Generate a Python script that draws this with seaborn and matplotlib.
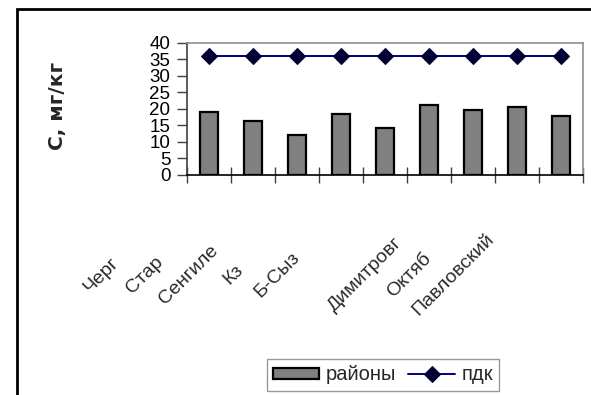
import matplotlib
matplotlib.use("Agg")
import matplotlib.pyplot as plt
import matplotlib.transforms as mtransforms
from matplotlib.patches import Rectangle
import numpy as np
import pandas as pd
import seaborn as sns

# Districts (labels as printed, one left unlabeled) and measured concentrations
districts = ["Черг", "Стар", "Сенгиле", "Кз", "Б-Сыз", "", "Димитровг", "Октяб", "Павловский"]
concentration = [19.1, 16.4, 12.1, 18.6, 14.1, 21.1, 19.8, 20.6, 17.8]
pdk_level = [36, 36, 36, 36, 36, 36, 36, 36, 36]
y_ticks = [0, 5, 10, 15, 20, 25, 30, 35, 40]

sns.set_theme(style="white")
plt.rcParams["font.family"] = ["Liberation Sans", "DejaVu Sans"]

df = pd.DataFrame({"pos": np.arange(len(districts)),
                   "c": concentration,
                   "pdk": pdk_level})

fig = plt.figure(figsize=(5.91, 3.95), dpi=100)
ax = fig.add_axes([187 / 591, 1 - 175 / 395, (583 - 187) / 591, (175 - 43) / 395])

sns.barplot(data=df, x="pos", y="c", color="#808080", saturation=1,
            edgecolor="black", linewidth=1.6, width=0.43, ax=ax,
            label="районы")
sns.lineplot(data=df, x="pos", y="pdk", color="#000080", linewidth=1.4,
             marker="D", markersize=8.5, markerfacecolor="#000033",
             markeredgecolor="#000033", ax=ax, label="пдк")

ax.set_xlim(-0.5, len(districts) - 0.5)
ax.set_ylim(0, 40)
ax.set_yticks(y_ticks)
ax.set_yticklabels([str(v) for v in y_ticks], fontsize=13.5, color="black")
ax.tick_params(axis="y", direction="out", length=7, width=1, color="#404040",
               pad=5, left=True)

# category boundaries carry the tick marks
ax.set_xticks(np.arange(len(districts)))
ax.set_xticks(np.arange(-0.5, len(districts)), minor=True)
ax.tick_params(axis="x", which="minor", direction="inout", length=12,
               width=1, color="#404040", bottom=True)
ax.tick_params(axis="x", which="major", length=0, pad=72)
ax.set_xticklabels(districts, fontsize=14, color="#2a2a2a")
shift = mtransforms.ScaledTranslation(-1.08, 0, fig.dpi_scale_trans)
for lab in ax.get_xticklabels():
    lab.set_rotation(45)
    lab.set_rotation_mode("anchor")
    lab.set_ha("center")
    lab.set_va("center")
    lab.set_transform(lab.get_transform() + shift)

ax.set_xlabel("")
ax.set_ylabel("")
for side in ["top", "right"]:
    ax.spines[side].set_visible(True)
    ax.spines[side].set_color("#909090")
    ax.spines[side].set_linewidth(1.2)
ax.spines["left"].set_color("#404040")
ax.spines["bottom"].set_color("black")
ax.spines["left"].set_linewidth(1.2)
ax.spines["bottom"].set_linewidth(1.2)
ax.grid(False)

fig.text(57 / 591, 1 - 106 / 395, "С, мг/кг", rotation=90, fontsize=14.5,
         fontweight="bold", family=["DejaVu Sans"], ha="center", va="center")

handles, labels = ax.get_legend_handles_labels()
order = [labels.index("районы"), labels.index("пдк")]
if ax.get_legend() is not None:
    ax.get_legend().remove()
leg = fig.legend([handles[i] for i in order], [labels[i] for i in order],
                 ncol=2, loc="center",
                 bbox_to_anchor=(383 / 591, 1 - 375 / 395),
                 fontsize=14.5, frameon=True, fancybox=False,
                 edgecolor="#808080", handlelength=2.3, handleheight=0.5,
                 columnspacing=0.6, handletextpad=0.35, borderpad=0.3)
leg.get_frame().set_linewidth(1.0)

# outer chart frame
fig.add_artist(Rectangle((17 / 591, -0.05), 1.1, 1 - 9 / 395 + 0.05,
                         transform=fig.transFigure, fill=False,
                         edgecolor="black", linewidth=2))

fig.savefig("out.png", dpi=100)
